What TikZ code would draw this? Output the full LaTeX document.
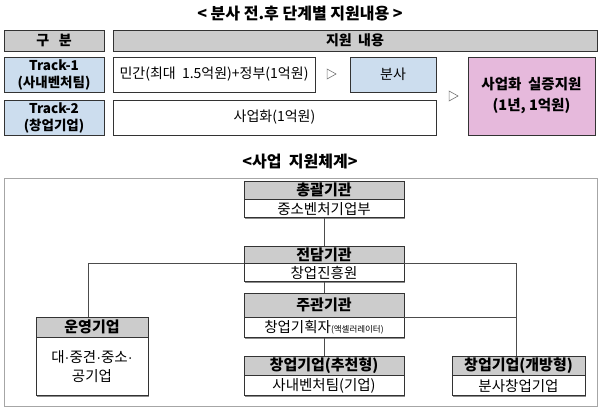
\documentclass[tikz,border=0pt]{standalone}
\usepackage{fontspec}
\setmainfont{Noto Sans CJK KR}
\newfontfamily\dotfont{Liberation Sans}
\usepackage{xcolor}
\usetikzlibrary{positioning}
\usetikzlibrary{shapes.geometric}
\usetikzlibrary{shadows}

\definecolor{headgray}{HTML}{CCCCCC}
\definecolor{trackblue}{HTML}{CCDDEE}
\definecolor{supportpink}{HTML}{E6B9DC}
\definecolor{framegray}{HTML}{A6A6A6}

\newcommand{\middot}{{\dotfont ·}}

\tikzset{
  boxshadow/.style={drop shadow={shadow xshift=1.2pt, shadow yshift=-1.2pt, fill=black!45, opacity=1}},
  cell/.style={draw=black!80, line width=0.8pt, fill=white, inner sep=0pt, align=center,
    boxshadow, font=\fontsize{14}{17}\selectfont},
  headcell/.style={cell, fill=headgray, font=\fontsize{14}{17}\selectfont\bfseries},
  trackcell/.style={cell, fill=trackblue, font=\fontsize{13.5}{17}\selectfont\bfseries},
  orghead/.style={draw=black!80, line width=0.7pt, fill=headgray, inner sep=0pt,
    boxshadow, font=\fontsize{15}{16}\selectfont\bfseries},
  orgbody/.style={draw=black!80, line width=0.7pt, fill=white, inner sep=0pt, align=center,
    boxshadow, font=\fontsize{14.5}{19}\selectfont},
  nextmark/.style={isosceles triangle, isosceles triangle stretches, draw=black!55,
    line width=0.6pt, inner sep=0pt, minimum height=9pt, minimum width=10pt},
  link/.style={draw=black!70, line width=0.6pt}
}

\begin{document}
\begin{tikzpicture}[x=1pt, y=-1pt]
  \useasboundingbox (0,0) rectangle (600,411);

  % stage table
  \node [font=\fontsize{16}{18}\selectfont\bfseries] (title1) at (300,14) {< 분사 전.후 단계별 지원내용 >};
  \node [headcell, minimum width=100pt, minimum height=21pt] (gubun) at (54,40.5) {구 \ \ 분};
  \node [headcell, minimum width=484pt, minimum height=21pt] (jiwon) at (355,40.5) {지원 \ 내용};
  \node [trackcell, minimum width=100pt, minimum height=35pt] (track1) at (54,74.5) {Track-1\\(사내벤처팀)};
  \node [cell, minimum width=202pt, minimum height=35pt] (mingan) at (214,74.5) {민간(최대 \ 1.5억원)+정부(1억원)};
  \node [nextmark] (next1) at (330,74) {};
  \node [cell, fill=trackblue, minimum width=86pt, minimum height=35pt] (bunsa) at (393,74.5) {분사};
  \node [trackcell, minimum width=100pt, minimum height=35pt] (track2) at (54,117.5) {Track-2\\(창업기업)};
  \node [cell, minimum width=323pt, minimum height=35pt] (saeop) at (274.5,117.5) {사업화(1억원)};
  \node [nextmark] (next2) at (452,96) {};
  \node [cell, fill=supportpink, minimum width=127pt, minimum height=78pt,
    font=\fontsize{14.5}{21}\selectfont\bfseries] (siljeung) at (531.5,96) {사업화 \ 실증지원\\(1년, 1억원)};

  % support system
  \node [font=\fontsize{16}{18}\selectfont\bfseries] (title2) at (300,162) {<사업 \ 지원체계>};
  \draw [framegray, line width=0.8pt] (4,178) rectangle (597,406);

  \node [orghead, minimum width=160pt, minimum height=18pt] (cgh) at (324,190) {총괄기관};
  \node [orgbody, minimum width=160pt, minimum height=18pt, below=0pt of cgh] (cgb) {중소벤처기업부};
  \node [orghead, minimum width=160pt, minimum height=17pt] (jdh) at (324,254.5) {전담기관};
  \node [orgbody, minimum width=160pt, minimum height=18pt, below=0pt of jdh] (jdb) {창업진흥원};
  \node [orghead, minimum width=160pt, minimum height=24pt] (jgh) at (324,305) {주관기관};
  \node [orgbody, minimum width=160pt, minimum height=20pt, below=0pt of jgh] (jgb)
    {창업기획자{\fontsize{8.5}{8}\selectfont(액셀러레이터)}};
  \node [orghead, minimum width=160pt, minimum height=19pt] (cch) at (324,365.5) {창업기업(추천형)};
  \node [orgbody, minimum width=160pt, minimum height=20pt, below=0pt of cch] (ccb) {사내벤처팀(기업)};
  \node [orghead, minimum width=133pt, minimum height=19pt] (gbh) at (518.5,365.5) {창업기업(개방형)};
  \node [orgbody, minimum width=133pt, minimum height=20pt, below=0pt of gbh] (gbb) {분사창업기업};
  \node [orghead, minimum width=112pt, minimum height=20pt] (uyh) at (92,327) {운영기업};
  \node [orgbody, minimum width=112pt, minimum height=58pt, below=0pt of uyh] (uyb)
    {대\middot 중견\middot 중소\middot\\공기업};

  \coordinate (uytop) at ([xshift=-4pt]uyh.north);
  \coordinate (gbtop) at ([xshift=-2.5pt]gbh.north);
  \draw [link] (cgb.south) -- (jdh.north);
  \draw [link] (jdb.south) -- (jgh.north);
  \draw [link] (jgb.south) -- (cch.north);
  \draw [link] (jdh.south west) -| (uytop);
  \draw [link] (jdh.south east) -| (gbtop);
  \draw [link] (jgh.south east) -- (jgh.south east -| gbtop);
\end{tikzpicture}
\end{document}
